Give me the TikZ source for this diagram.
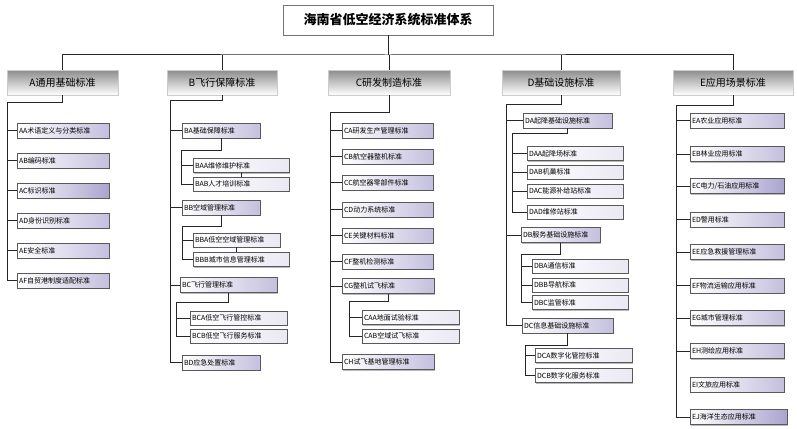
\documentclass[tikz,border=0pt]{standalone}
\usepackage{fontspec}
\setmainfont{Noto Sans CJK SC}
\usetikzlibrary{
    shadows
}
\definecolor{lav}{RGB}{196,192,222}
\definecolor{lavdark}{RGB}{170,164,206}

\begin{document}
\begin{tikzpicture}[
    x=1pt, y=-1pt,
    shade/.style={
        drop shadow={shadow xshift=1.3pt, shadow yshift=-1.3pt, fill=black!45, opacity=.6}
    },
    rootbox/.style={
        draw=black!55,
        fill=white,
        minimum width=210pt,
        minimum height=30pt,
        font=\fontsize{13}{15}\selectfont\bfseries,
        shade
    },
    head/.style={
        draw=black!20,
        top color=black!45,
        bottom color=white,
        minimum height=25pt,
        font=\fontsize{10}{12}\selectfont,
        shade
    },
    leaf/.style={
        draw=black!65,
        left color=white,
        right color=lav,
        minimum height=15pt,
        inner xsep=2pt,
        inner ysep=0pt,
        align=left,
        font=\fontsize{7}{8}\selectfont,
        shade
    },
    leafdark/.style={leaf, right color=lavdark},
    subleaf/.style={leaf, right color=lav!35, minimum height=14pt},
    line/.style={draw=black!85, line width=1pt}
]

\useasboundingbox (0,0) rectangle (797,428);

% ================= ROOT =================
\node[rootbox] (root) at (388,20) {海南省低空经济系统标准体系};
\coordinate (bus) at (388,55);

% ================= HEADINGS =================
\node[head, minimum width=111pt] (hA) at (62.5,82.5) {A通用基础标准};
\node[head, minimum width=110pt] (hB) at (222,82.5) {B飞行保障标准};
\node[head, minimum width=122pt] (hC) at (389,82.5) {C研发制造标准};
\node[head, minimum width=118pt] (hD) at (561,82.5) {D基础设施标准};
\node[head, minimum width=120pt] (hE) at (733,82.5) {E应用场景标准};

\draw[line] (root.south) -- (bus);
\draw[line] (hA.north) |- (bus) -| (hE.north);
\foreach \h in {hB,hC,hD}
    \draw[line] (\h.north) -- (\h.north |- bus);

% ================= A =================
\coordinate (aTop) at (7,102);
\node[leaf, text width=88pt] (aA) at (63,130.5) {AA术语定义与分类标准};
\node[leaf, text width=88pt] (aB) at (63,160.5) {AB编码标准};
\node[leafdark, text width=88pt] (aC) at (63,190.5) {AC标识标准};
\node[leaf, text width=88pt] (aD) at (63,220.5) {AD身份识别标准};
\node[leaf, text width=88pt] (aE) at (63,250.5) {AE安全标准};
\node[leaf, text width=88pt] (aF) at (63,280.5) {AF自贸港制度适配标准};

\draw[line] (hA.south) |- (aTop) -- (aTop |- aF.west);
\foreach \n in {aA,aB,aC,aD,aE,aF}
    \draw[line] (aTop |- \n.west) -- (\n.west);

% ================= B =================
\coordinate (bTop) at (170,100);
\node[leaf, text width=74pt] (bA) at (221,130.5) {BA基础保障标准};
\node[leaf, text width=74pt] (bB) at (221,207.5) {BB空域管理标准};
\node[leaf, text width=93pt] (bC) at (228.5,285) {BC飞行管理标准};
\node[leaf, text width=74pt] (bD) at (221,362.5) {BD应急处置标准};

\draw[line] (hB.south) |- (bTop) -- (bTop |- bD.west);
\foreach \n in {bA,bB,bC,bD}
    \draw[line] (bTop |- \n.west) -- (\n.west);

% ---- BA
\coordinate (baTop) at (181,150);
\node[subleaf, text width=92pt] (bAA) at (241,165.5) {BAA维修维护标准};
\node[subleaf, text width=92pt] (bAB) at (241,184) {BAB人才培训标准};
\draw[line] (bA.south) |- (baTop) -- (baTop |- bAB.west);
\foreach \n in {bAA,bAB}
    \draw[line] (baTop |- \n.west) -- (\n.west);
\draw[line] (bAA.south) -- (bAA.south |- bAB.north);

% ---- BB
\coordinate (bbTop) at (182,226);
\node[subleaf, text width=83pt] (bBA) at (236.5,240) {BBA低空空域管理标准};
\node[subleaf, text width=92pt] (bBB) at (241,259.5) {BBB城市信息管理标准};
\draw[line] (bB.south) |- (bbTop) -- (bbTop |- bBB.west);
\foreach \n in {bBA,bBB}
    \draw[line] (bbTop |- \n.west) -- (\n.west);
\draw[line] (bBA.south) -- (bBA.south |- bBB.north);

% ---- BC
\coordinate (bcTop) at (176,302);
\node[subleaf, text width=93pt] (bCA) at (238.5,318) {BCA低空飞行管控标准};
\node[subleaf, text width=93pt] (bCB) at (238.5,336) {BCB低空飞行服务标准};
\draw[line] (bC.south) |- (bcTop) -- (bcTop |- bCB.west);
\foreach \n in {bCA,bCB}
    \draw[line] (bcTop |- \n.west) -- (\n.west);

% ================= C =================
\coordinate (cTop) at (330,112);
\node[leaf, text width=87pt] (cA) at (387.5,130.5) {CA研发生产管理标准};
\node[leaf, text width=87pt] (cB) at (387.5,156.5) {CB航空器整机标准};
\node[leaf, text width=87pt] (cC) at (387.5,182.5) {CC航空器零部件标准};
\node[leaf, text width=87pt] (cD) at (387.5,209.5) {CD动力系统标准};
\node[leaf, text width=87pt] (cE) at (387.5,235.5) {CE关键材料标准};
\node[leaf, text width=87pt] (cF) at (387.5,261.5) {CF整机检测标准};
\node[leaf, text width=88pt] (cG) at (388,286) {CG整机试飞标准};
\node[leaf, text width=88pt] (cH) at (388,362) {CH试飞基地管理标准};

\draw[line] (hC.south) |- (cTop) -- (cTop |- cH.west);
\foreach \n in {cA,cB,cC,cD,cE,cF,cG,cH}
    \draw[line] (cTop |- \n.west) -- (\n.west);

% ---- CG
\coordinate (cgTop) at (349,301);
\node[subleaf, text width=93pt] (cGA) at (410.5,317.5) {CAA地面试验标准};
\node[subleaf, text width=93pt] (cGB) at (410.5,336) {CAB空域试飞标准};
\draw[line] (cG.south) |- (cgTop) -- (cgTop |- cGB.west);
\foreach \n in {cGA,cGB}
    \draw[line] (cgTop |- \n.west) -- (\n.west);

% ================= D =================
\coordinate (dTop) at (506,104);
\node[leaf, text width=85pt] (dA) at (567.5,120.5) {DA起降基础设施标准};
\node[leaf, text width=75pt] (dB) at (560.5,235) {DB服务基础设施标准};
\node[leaf, text width=87pt] (dC) at (567.5,325.5) {DC信息基础设施标准};

\draw[line] (hD.south) |- (dTop) -- (dTop |- dC.west);
\foreach \n in {dA,dB,dC}
    \draw[line] (dTop |- \n.west) -- (\n.west);

% ---- DA
\coordinate (daTop) at (512,133);
\node[subleaf, text width=92pt] (dAA) at (575,153.5) {DAA起降场标准};
\node[subleaf, text width=92pt] (dAB) at (575,172) {DAB机巢标准};
\node[subleaf, text width=92pt] (dAC) at (575,191) {DAC能源补给站标准};
\node[subleaf, text width=92pt] (dAD) at (575,212) {DAD维修站标准};
\draw[line] (dA.south) |- (daTop) -- (daTop |- dAD.west);
\foreach \n in {dAA,dAB,dAC,dAD}
    \draw[line] (daTop |- \n.west) -- (\n.west);

% ---- DB
\coordinate (dbTop) at (521,254);
\node[subleaf, text width=92pt] (dBA) at (580,266) {DBA通信标准};
\node[subleaf, text width=92pt] (dBB) at (580,285) {DBB导航标准};
\node[subleaf, text width=92pt] (dBC) at (580,302.5) {DBC监管标准};
\draw[line] (dB.south) |- (dbTop) -- (dbTop |- dBC.west);
\foreach \n in {dBA,dBB,dBC}
    \draw[line] (dbTop |- \n.west) -- (\n.west);

% ---- DC
\coordinate (dcTop) at (525,345);
\node[subleaf, text width=93pt] (dCA) at (583.5,355.5) {DCA数字化管控标准};
\node[subleaf, text width=93pt] (dCB) at (583.5,375.5) {DCB数字化服务标准};
\draw[line] (dC.south) |- (dcTop) -- (dcTop |- dCB.west);
\foreach \n in {dCA,dCB}
    \draw[line] (dcTop |- \n.west) -- (\n.west);

% ================= E =================
\coordinate (eTop) at (676,105);
\node[leaf, text width=90pt] (eA) at (737,120.5) {EA农业应用标准};
\node[leaf, text width=90pt] (eB) at (737,154) {EB林业应用标准};
\node[leafdark, text width=90pt] (eC) at (737,186) {EC电力/石油应用标准};
\node[leaf, text width=90pt] (eD) at (737,219.5) {ED警用标准};
\node[leaf, text width=90pt] (eE) at (737,252) {EE应急救援管理标准};
\node[leaf, text width=90pt] (eF) at (737,285.5) {EF物流运输应用标准};
\node[leaf, text width=90pt] (eG) at (737,318) {EG城市管理标准};
\node[leaf, text width=90pt] (eH) at (737,351) {EH测绘应用标准};
\node[leaf, text width=90pt] (eI) at (737,384.5) {EI文旅应用标准};
\node[leafdark, text width=93pt] (eJ) at (738.5,417) {EJ海洋生态应用标准};

\draw[line] (hE.south) |- (eTop) -- (eTop |- eJ.west);
\foreach \n in {eA,eB,eC,eD,eE,eF,eG,eH,eJ}
    \draw[line] (eTop |- \n.west) -- (\n.west);

\end{tikzpicture}
\end{document}
